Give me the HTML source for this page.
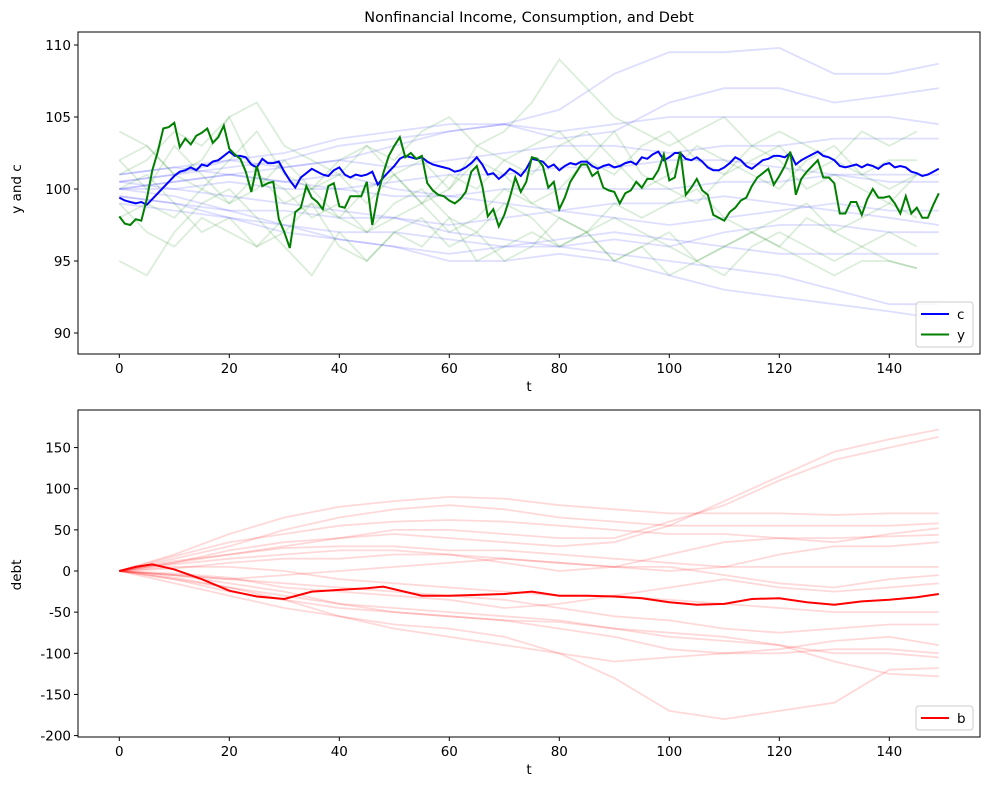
<!DOCTYPE html>
<html><head><meta charset="utf-8">
<style>
html,body{margin:0;padding:0;background:#fff;}
svg{display:block;font-family:"DejaVu Sans","Liberation Sans",sans-serif;}
</style></head>
<body>
<svg id="chart" width="989" height="790" viewBox="0 0 989 790">
<text x="529" y="22" text-anchor="middle" font-size="14.5">Nonfinancial Income, Consumption, and Debt</text>
<g id="topPanel"></g>
<g id="botPanel"></g>
</svg>
<script>
// ---------- data ----------
const xTicks = [0,20,40,60,80,100,120,140];
const topYTicks = [90,95,100,105,110];
const botYTicks = [-200,-150,-100,-50,0,50,100,150];

const cMain = [99.4,99.2,99.1,99.0,99.1,98.9,99.3,99.7,100.1,100.5,
100.9,101.2,101.3,101.5,101.3,101.7,101.6,101.9,102.0,102.3,
102.6,102.3,102.3,102.2,101.7,101.5,102.1,101.8,101.8,101.9,
101.2,100.6,100.1,100.8,101.1,101.4,101.2,101.0,100.9,101.3,
101.5,101.0,100.8,101.0,100.9,101.0,101.2,100.3,100.8,101.2,
101.6,102.1,102.3,102.2,102.1,102.2,101.9,101.7,101.6,101.5,
101.4,101.2,101.3,101.5,101.8,102.2,101.7,101.0,101.1,100.7,
101.0,101.4,101.2,100.9,101.4,102.1,102.0,101.9,101.5,101.7,
101.3,101.6,101.8,101.7,101.9,101.9,101.6,101.4,101.6,101.7,
101.5,101.6,101.8,101.9,101.7,102.2,102.1,102.4,102.6,102.0,
102.2,102.5,102.5,102.1,102.0,102.2,101.9,101.5,101.3,101.3,
101.5,101.8,102.2,102.0,101.6,101.4,101.7,102.0,102.1,102.3,
102.3,102.2,102.5,101.7,102.0,102.2,102.4,102.6,102.3,102.2,
102.0,101.6,101.5,101.6,101.7,101.5,101.7,101.6,101.4,101.7,
101.8,101.5,101.6,101.5,101.2,101.1,100.9,101.0,101.2,101.4];

const yMain = [98.1,97.6,97.5,97.9,97.8,99.3,101.3,102.6,104.2,104.3,
104.6,102.9,103.5,103.1,103.7,103.9,104.2,103.2,103.6,104.4,
102.8,102.4,102.1,101.2,99.8,101.6,100.2,100.4,100.5,97.9,
97.0,95.9,98.4,98.7,100.2,99.4,99.1,98.6,100.2,100.4,
98.8,98.7,99.5,99.5,99.5,100.5,97.5,99.6,101.1,102.3,
103.0,103.6,102.2,102.5,102.1,102.3,100.4,99.9,99.6,99.5,
99.2,99.0,99.3,99.8,101.2,101.6,100.2,98.1,98.6,97.4,
98.2,99.4,100.8,99.8,100.5,102.2,102.1,101.6,100.1,100.5,
98.6,99.4,100.5,101.1,101.7,101.7,100.9,101.2,100.1,99.9,
99.8,99.0,99.7,99.9,100.5,100.1,100.7,100.7,101.3,102.4,
100.6,100.8,102.6,99.6,100.1,100.7,99.9,99.6,98.2,98.0,
97.8,98.4,98.7,99.2,99.4,100.2,100.8,101.1,101.4,100.3,
100.9,101.6,102.6,99.6,100.7,101.2,101.6,102.0,100.8,100.8,
100.4,98.3,98.3,99.1,99.1,98.2,99.3,100.0,99.4,99.4,
99.5,99.0,98.3,99.5,98.3,98.7,98.0,98.0,98.9,99.7];

const tCoarse = [0,10,20,30,40,50,60,70,80,90,100,110,120,130,140,149];
const t5 = [0,5,10,15,20,25,30,35,40,45,50,55,60,65,70,75,80,85,90,95,100,105,110,115,120,125,130,135,140,145];
const tB = [0,3,6,10,15,20,25,30,35,40,45,48,55,60,65,70,75,80,85,90,95,100,105,110,115,120,125,130,135,140,145,149];
const bMain = [0,5,8,2,-10,-24,-31,-34,-25,-23,-21,-19,-30,-30,-29,-28,-25,-30,-30,-31,-33,-38,-41,-40,-34,-33,-38,-41,-37,-35,-32,-28];

const blueFaint = [
[100.5,101,101.5,102,103,103.5,104,104.5,105.5,108,109.5,109.5,109.8,108,108,108.7],
[100,100.5,101,101.5,102,103,104,104.5,103.5,104,106,107,107,106,106.5,107],
[101,101.5,102,102.5,103.5,104,104.5,104.5,104,104.5,105,105,105,105,105,104.5],
[100.5,101,102,101.5,102,101.5,102,102.5,103,103,102.5,103,103,103.5,103.5,103.5],
[100,100,100.5,100,100,99.5,99.5,100,100,100,100,100.5,100.5,101,100.5,100.5],
[99.5,99,98.5,98.5,98,98,97.5,98,98.5,98,97.5,98,98.5,99,98.5,98.5],
[99,98.5,98,97.5,97,97,96.5,96,96,96.5,96,97,97.5,97.5,97,97],
[100,99.5,98.5,97.5,96.5,96,95.5,96,96.5,97,96.5,96,95.5,95.5,95.5,95.5],
[99.5,99,98,97,96.5,96,95,95,95.5,95,94,93,92.5,92,91.5,91],
[100.5,100,99.5,99,98.5,98,97,96.5,96,95.5,95,94.5,94,93,92,92],
[101,101.5,101,100.5,100,100.5,101,101,101.5,101.5,102,102,101.5,101,101,101],
[100,100.5,101,100.5,101,100,99.5,99,98.5,99,99,99.5,99,98.5,98,97.5]];

const greenFaint = [
[104,103,101,102,105,101,99,100,101,99,101,102,100,103,104,106,109,107,105,104,103,104,105,103,104,103,102,104,103,104],
[95,94,97,99,100,98,96,94,97,95,97,96,98,95,96,97,96,97,95,96,94,95,96,97,96,95,94,95,95,94.5],
[102,100,103,101,99,100,102,100,98,100,101,99,100,102,101,99,100,102,104,101,100,99,101,103,102,100,101,100,99,101],
[100,101,99,97,98,96,97,99,98,97,99,100,98,97,99,98,96,97,98,97,96,95,96,97,96,98,97,96,97,96],
[101,102,104,103,105,106,103,102,101,103,102,104,105,103,102,103,104,102,101,103,104,102,101,102,103,101,102,101,102,102],
[98,99,98,100,99,101,100,98,99,97,98,99,97,98,100,99,98,97,99,98,99,100,98,97,98,99,97,98,99,98],
[102,103,101,100,102,104,101,100,102,103,101,99,101,100,102,101,103,104,102,100,101,103,102,101,100,102,103,101,100,101],
[99,97,96,98,97,96,98,99,96,95,97,98,96,97,95,96,98,97,95,96,97,95,94,96,97,96,95,96,95,94.5]];

const redFaint = [
[0,10,25,35,40,45,40,35,30,35,55,85,115,145,160,172],
[0,12,20,30,40,50,50,45,40,40,60,80,110,135,150,163],
[0,20,45,65,78,85,90,88,80,75,70,70,70,68,70,70],
[0,15,30,50,65,75,80,75,65,60,55,55,55,55,55,58],
[0,18,35,45,55,60,62,60,55,50,45,45,40,35,45,52],
[0,8,15,20,25,25,20,10,0,5,20,35,40,40,42,44],
[0,10,20,28,30,30,25,25,20,15,10,5,20,30,30,35],
[0,-5,-10,-5,0,5,10,15,10,5,0,5,5,5,5,5],
[0,-10,-20,-30,-40,-45,-50,-55,-60,-70,-75,-80,-90,-110,-125,-128],
[0,-15,-30,-45,-55,-65,-70,-80,-100,-130,-170,-180,-170,-160,-120,-118],
[0,-8,-20,-35,-55,-70,-80,-90,-100,-110,-105,-100,-100,-95,-95,-100],
[0,-5,-15,-25,-40,-50,-55,-60,-70,-80,-95,-100,-95,-85,-80,-90],
[0,-5,-10,-15,-20,-25,-30,-35,-45,-55,-60,-70,-75,-70,-65,-65],
[0,5,5,0,-10,-15,-20,-25,-30,-30,-35,-40,-45,-50,-50,-50],
[0,-3,-8,-20,-25,-30,-35,-45,-40,-30,-20,-10,-20,-25,-20,-15],
[0,3,10,15,15,20,20,15,10,5,5,-5,-15,-20,-10,-5],
[0,-10,-25,-35,-45,-50,-55,-60,-62,-70,-80,-85,-90,-100,-100,-105]];

// ---------- scales ----------
const NS='http://www.w3.org/2000/svg';
const X0=78, X1=980;
const xs = t => 119.3 + t*5.5;
const ysTop = v => 189 - (v-100)*14.4;
const ysBot = v => 571 - v*0.8229;

function mk(tag, attrs, parent){const e=document.createElementNS(NS,tag);for(const k in attrs)e.setAttribute(k,attrs[k]);parent.appendChild(e);return e;}
function pathD(ts, vals, ys){return vals.map((v,i)=>(i?'L':'M')+xs(ts[i]).toFixed(1)+' '+ys(v).toFixed(1)).join('');}
const idx150 = cMain.map((_,i)=>i);

function axes(g, yTop, yBottom, yTicks, ys, ylabel, yLabelY){
  xTicks.forEach(t=>{
    const x=xs(t);
    const tk=mk('line',{x1:x,x2:x,y1:yBottom,y2:yBottom+4,stroke:'#000'},g);
    
    
    const tl=mk('text',{x:x,y:yBottom+19,'text-anchor':'middle','font-size':'13.5'},g);
    tl.textContent=t;
    
    
  });
  yTicks.forEach(v=>{
    const y=ys(v);
    const tk=mk('line',{x1:X0-4,x2:X0,y1:y,y2:y,stroke:'#000'},g);
    
    
    const tl=mk('text',{x:X0-7,y:y+5,'text-anchor':'end','font-size':'13.5'},g);
    tl.textContent=v;
    
    
  });
  const fr=mk('rect',{x:X0,y:yTop,width:X1-X0,height:yBottom-yTop,fill:'none',stroke:'#000','stroke-width':1},g);
  
  
  const xl=mk('text',{x:(X0+X1)/2,y:yBottom+37,'text-anchor':'middle','font-size':'13.5'},g);
  xl.textContent='t';
  
  
  const yl=mk('text',{x:21,y:yLabelY,'text-anchor':'middle','font-size':'13.5',transform:'rotate(-90 21 '+yLabelY+')'},g);
  yl.textContent=ylabel;
  
  
}

function legend(g, x, y, items){
  const h=items.length*21+3;
  const box=mk('rect',{x:x,y:y,width:57,height:h,rx:3,fill:'#fff','fill-opacity':0.8,stroke:'#ccc'},g);
  
  
  items.forEach((it,i)=>{
    const yy=y+12+i*20.5;
    const ln=mk('line',{x1:x+5,x2:x+33,y1:yy,y2:yy,stroke:it[1],'stroke-width':2},g);
    
    
    const tx=mk('text',{x:x+41,y:yy+5,'font-size':'13.5'},g);
    tx.textContent=it[0];
    
    
  });
}

// ---------- top panel ----------
const topG=document.getElementById('topPanel');
blueFaint.forEach(s=>{
  const p=mk('path',{d:pathD(tCoarse,s,ysTop),fill:'none',stroke:'#0000ff','stroke-opacity':0.13,'stroke-width':1.8},topG);
  
  
});
greenFaint.forEach(s=>{
  const p=mk('path',{d:pathD(t5,s,ysTop),fill:'none',stroke:'#008000','stroke-opacity':0.14,'stroke-width':1.8},topG);
  
  
});
const cl=mk('path',{d:pathD(idx150,cMain,ysTop),fill:'none',stroke:'#0000ff','stroke-width':2},topG);


const yl2=mk('path',{d:pathD(idx150,yMain,ysTop),fill:'none',stroke:'#008000','stroke-width':2},topG);


axes(topG,32,354,topYTicks,ysTop,'y and c',189);
legend(topG,916,302,[['c','#0000ff'],['y','#008000']]);

// ---------- bottom panel ----------
const botG=document.getElementById('botPanel');
redFaint.forEach(s=>{
  const p=mk('path',{d:pathD(tCoarse,s,ysBot),fill:'none',stroke:'#ff0000','stroke-opacity':0.15,'stroke-width':1.8},botG);
  
  
});
const bl=mk('path',{d:pathD(tB,bMain,ysBot),fill:'none',stroke:'#ff0000','stroke-width':2},botG);


axes(botG,410,737,botYTicks,ysBot,'debt',575);
legend(botG,916,706,[['b','#ff0000']]);
</script>
</body></html>
